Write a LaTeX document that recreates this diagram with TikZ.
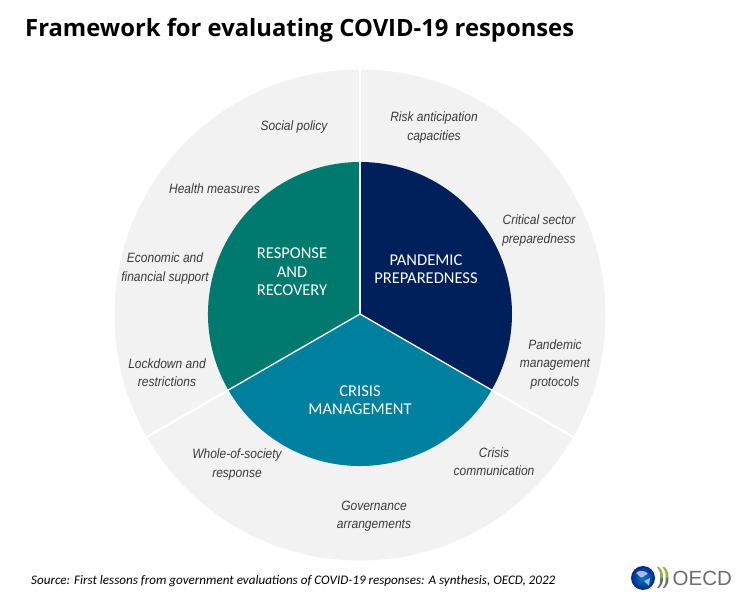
\documentclass[tikz,border=0pt]{standalone}
\usepackage{fontspec}
\usetikzlibrary{calc}
\setmainfont{Liberation Sans}
\newfontfamily\titlefont{Open Sans}
\newfontfamily\calfont{Carlito}
\definecolor{ring}{HTML}{F2F2F2}
\definecolor{navy}{HTML}{00205C}
\definecolor{teal2}{HTML}{007A6E}
\definecolor{blue2}{HTML}{00809F}
\definecolor{txt}{HTML}{3A3A3A}
\definecolor{leaf}{HTML}{8DB63C}
\definecolor{logog}{HTML}{6E6E6E}
\tikzset{
 lab/.style={align=center,font=\fontsize{13.5}{18.3}\selectfont\itshape,text=txt,xscale=.89,inner sep=0pt},
 core/.style={align=center,font=\calfont\fontsize{16.5}{18.5}\selectfont,text=white,inner sep=0pt},
 sep/.style={draw=white,line width=2.2pt},
 sepin/.style={draw=white,line width=1.3pt}
}
\begin{document}
\begin{tikzpicture}[x=1pt,y=1pt]
\useasboundingbox (0,0) rectangle (750,597);
\fill[white] (0,0) rectangle (750,597);
\coordinate (c) at (360,283);
\fill[ring] (360,282) circle (245.5);
\fill[navy] (c) -- ++(90:152) arc (90:-30:152) -- cycle;
\fill[blue2] (c) -- ++(-30:152) arc (-30:-150:152) -- cycle;
\fill[teal2] (c) -- ++(210:152) arc (210:90:152) -- cycle;
\foreach \a in {90,-30,210}{
  \draw[sep] ($(c)+(\a:152)$) -- ($(c)+(\a:248)$);
  \draw[sepin] (c) -- ($(c)+(\a:153)$);
}
\node[anchor=west,font=\titlefont\bfseries\fontsize{23.8}{26}\selectfont,inner sep=0pt] (title) at (25,567) {Framework for evaluating COVID-19 responses};
\node[core] (pp) at (426,328) {PANDEMIC\\PREPAREDNESS};
\node[core] (rr) at (292,325) {RESPONSE\\AND\\RECOVERY};
\node[core] (cm) at (360,197) {CRISIS\\MANAGEMENT};
\node[lab] (l1) at (294,469.5) {Social policy};
\node[lab] (l2) at (434,469.5) {Risk anticipation\\capacities};
\node[lab] (l3) at (214.5,408.5) {Health measures};
\node[lab] (l4) at (539,366.5) {Critical sector\\preparedness};
\node[lab] (l5) at (165,328.5) {Economic and\\financial support};
\node[lab] (l6) at (555,232.5) {Pandemic\\management\\protocols};
\node[lab] (l7) at (167,224.5) {Lockdown and\\restrictions};
\node[lab] (l8) at (237,132.5) {Whole-of-society\\response};
\node[lab] (l9) at (494,135.5) {Crisis\\communication};
\node[lab] (l10) at (374,80.5) {Governance\\arrangements};
\node[anchor=west,inner sep=0pt,font=\calfont\itshape\fontsize{13.1}{15}\selectfont] (src) at (31,16) {Source: First lessons from government evaluations of COVID-19 responses: A synthesis, OECD, 2022};
% logo
\shade[inner color=blue!30!cyan!70!black,outer color=blue!70!cyan!55!black] (643,19) circle (12);
\fill[white!70!blue] (636,24) .. controls (640,28) and (646,26) .. (648,23) .. controls (644,22) and (643,18) .. (640,20) -- cycle;
\fill[white!70!blue] (644,16) -- (650,19) -- (649,11) -- cycle;
\foreach \dx in {0,5.5}{
 \fill[leaf] (657+\dx,30) .. controls (660+\dx,26) and (660.5+\dx,23) .. (660+\dx,19) -- (663+\dx,19) .. controls (663+\dx,24) and (662+\dx,27) .. (659+\dx,30) -- cycle;
 \fill[logog] (660+\dx,19) .. controls (660.5+\dx,15) and (660+\dx,12) .. (657+\dx,9) -- (659+\dx,9) .. controls (662+\dx,12) and (663+\dx,15) .. (663+\dx,19) -- cycle;
}
\node[anchor=west,inner sep=0pt,text=logog,font=\fontsize{20.5}{22}\selectfont] (oecd) at (672.5,19) {OECD};
\end{tikzpicture}
\end{document}
